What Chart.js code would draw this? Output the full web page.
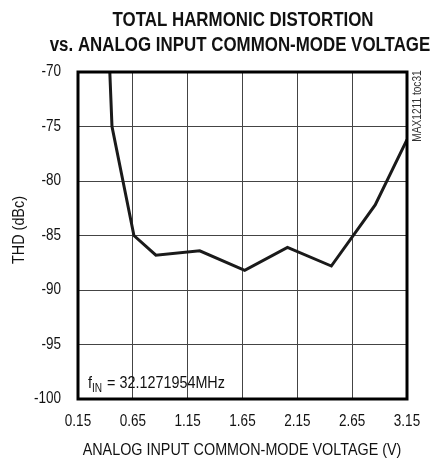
<!DOCTYPE html>
<html>
<head>
<meta charset="utf-8">
<script src="https://cdn.jsdelivr.net/npm/chart.js@4/dist/chart.umd.min.js"></script>
<style>
  html, body { margin: 0; padding: 0; background: #fff; }
  #wrap { width: 435px; height: 459px; position: relative; }
</style>
</head>
<body>
<div id="wrap"><canvas id="chart"></canvas></div>
<script>
// THD vs analog input common-mode voltage
var voltage = [0.44, 0.46, 0.66, 0.86, 1.26, 1.67, 2.06, 2.46, 2.86, 3.15];
var thd = [-70, -75, -85, -86.8, -86.4, -88.2, -86.1, -87.8, -82.2, -76.2];
var xTicks = [0.15, 0.65, 1.15, 1.65, 2.15, 2.65, 3.15];
var yTicks = [-100, -95, -90, -85, -80, -75, -70];

var FONT = "'Liberation Sans', Arial, sans-serif";
var SQUEEZE = 0.845; // no narrow font installed, so squash text horizontally

// draw text squashed horizontally, like Arial Narrow
function narrowText(ctx, text, x, y, font, align){
	ctx.save();
	ctx.font = font;
	ctx.textAlign = align || 'center';
	ctx.translate(x, y);
	ctx.scale(SQUEEZE, 1);
	ctx.fillText(text, 0, 0);
	ctx.restore();
}

var textPlugin = {
	id: 'texts',
	afterDraw: function(chart){
		var ctx = chart.ctx;
		var area = chart.chartArea;
		var xs = chart.scales.x, ys = chart.scales.y;
		ctx.save();
		ctx.fillStyle = '#111';
		ctx.textBaseline = 'middle';

		narrowText(ctx, 'TOTAL HARMONIC DISTORTION', 243, 20, 'bold 20px ' + FONT);
		narrowText(ctx, 'vs. ANALOG INPUT COMMON-MODE VOLTAGE', 240, 45, 'bold 20px ' + FONT);

		// tick labels
		xs.ticks.forEach(function(t){
			narrowText(ctx, t.value.toFixed(2), xs.getPixelForValue(t.value), 422, '16px ' + FONT);
		});
		ys.ticks.forEach(function(t){
			narrowText(ctx, String(t.value), 61, ys.getPixelForValue(t.value), '16px ' + FONT, 'right');
		});

		narrowText(ctx, 'ANALOG INPUT COMMON-MODE VOLTAGE (V)', 242, 450, '17px ' + FONT);

		ctx.save();
		ctx.translate(19, 230);
		ctx.rotate(-Math.PI / 2);
		narrowText(ctx, 'THD (dBc)', 0, 0, '17px ' + FONT);
		ctx.restore();

		// side label
		ctx.save();
		ctx.translate(418, 106);
		ctx.rotate(-Math.PI / 2);
		ctx.fillStyle = '#333';
		narrowText(ctx, 'MAX1211 toc31', 0, 0, '12px ' + FONT);
		ctx.restore();

		// f_IN annotation
		ctx.textBaseline = 'alphabetic';
		var x = 88, y = 388;
		narrowText(ctx, 'f', x, y, '17px ' + FONT, 'left');
		ctx.font = '17px ' + FONT;
		x += ctx.measureText('f').width * SQUEEZE;
		narrowText(ctx, 'IN', x, y + 4, '12px ' + FONT, 'left');
		ctx.font = '12px ' + FONT;
		x += ctx.measureText('IN').width * SQUEEZE + 1;
		narrowText(ctx, ' = 32.1271954MHz', x, y, '17px ' + FONT, 'left');

		// thick frame
		ctx.strokeStyle = '#000';
		ctx.lineWidth = 3;
		ctx.strokeRect(area.left, area.top, area.right - area.left, area.bottom - area.top);
		ctx.restore();
	}
};

new Chart(document.getElementById('chart'), {
	type: 'line',
	data: {
		datasets: [{
			data: voltage.map(function(v, i){ return { x: v, y: thd[i] }; }),
			borderColor: '#1a1a1a',
			borderWidth: 3,
			pointRadius: 0,
			tension: 0,
			fill: false
		}]
	},
	options: {
		responsive: true,
		maintainAspectRatio: false,
		animation: false,
		layout: { padding: { top: 72, right: 28, left: 0, bottom: 0 } },
		plugins: {
			legend: { display: false },
			title: { display: false },
			tooltip: { enabled: false }
		},
		scales: {
			x: {
				type: 'linear',
				min: 0.15,
				max: 3.15,
				afterFit: function(scale){ scale.height = 60; },
				afterBuildTicks: function(scale){
					scale.ticks = xTicks.map(function(v){ return { value: v }; });
				},
				ticks: { display: false },
				grid: { color: '#444', lineWidth: 1, drawTicks: false },
				border: { display: false }
			},
			y: {
				min: -100,
				max: -70,
				afterFit: function(scale){ scale.width = 78; },
				afterBuildTicks: function(scale){
					scale.ticks = yTicks.map(function(v){ return { value: v }; });
				},
				ticks: { display: false },
				grid: { color: '#444', lineWidth: 1, drawTicks: false },
				border: { display: false }
			}
		}
	},
	plugins: [textPlugin]
});
</script>
</body>
</html>
